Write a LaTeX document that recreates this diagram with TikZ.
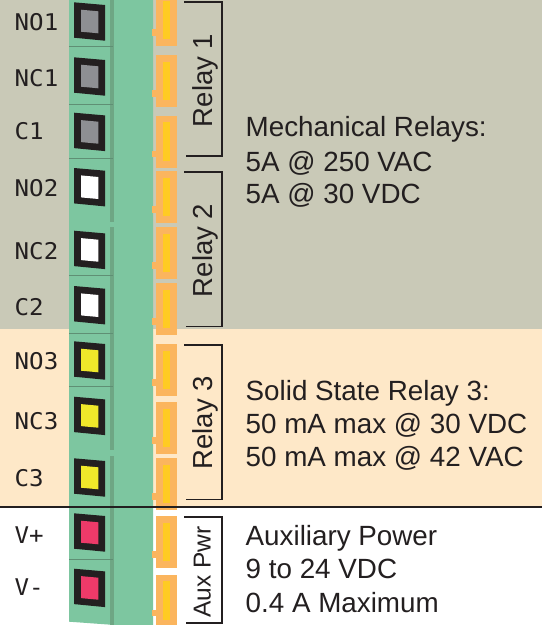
\documentclass[tikz,border=0pt]{standalone}
\usepackage{fontspec}
\setmainfont{Liberation Sans}
\newfontfamily\pinfont[FakeStretch=1.05]{DejaVu Sans Mono}
\definecolor{relaygray}{HTML}{C9C9B7}
\definecolor{peach}{HTML}{FEE8C8}
\definecolor{termgreen}{HTML}{7DC6A0}
\definecolor{stripe}{HTML}{6EA684}
\definecolor{divider}{HTML}{5F8F74}
\definecolor{pinorange}{HTML}{FBB55E}
\definecolor{pinyellow}{HTML}{FFCB23}
\definecolor{housing}{HTML}{231F20}
\definecolor{contactgray}{HTML}{8E8F93}
\definecolor{contactyellow}{HTML}{F0E82A}
\definecolor{contactred}{HTML}{EE3A69}
\tikzset{
  pinlabel/.style={anchor=base west,inner sep=0pt,font=\pinfont\fontsize{23}{23}\selectfont,text=housing},
  infotext/.style={anchor=base west,inner sep=0pt,font=\fontsize{27.8}{27.8}\selectfont,text=housing},
  relaytext/.style={rotate=90,anchor=base,inner sep=0pt,font=\fontsize{27.5}{27.5}\selectfont,text=housing},
  bracketline/.style={draw=housing,line width=1.6pt},
}
\newcommand{\terminal}[2]{%
  \fill[housing] (74,#1) -- (105,#1+2.7) -- (105,#1+38.4) -- (74,#1+35.4) -- cycle;
  \fill[#2] (81,#1+7.4) -- (98.3,#1+9) -- (98.3,#1+31) -- (81,#1+29.4) -- cycle;
}
\newcommand{\orangepin}[1]{%
  \fill[pinorange] (156,#1) rectangle (176.7,#1+52);
  \fill[pinorange] (152,#1+35) rectangle (157,#1+41.7);
  \fill[pinyellow] (163,#1+6.7) rectangle (170,#1+45);
}
\begin{document}
\begin{tikzpicture}[x=1pt,y=-1pt]
\useasboundingbox (0,0) rectangle (542,625);
\fill[relaygray] (0,0) rectangle (542,329);
\fill[peach] (0,329) rectangle (542,507);
\fill[white] (0,507) rectangle (542,625);
% terminal block
\fill[termgreen] (69,0) -- (153,0) -- (153,625) -- (115,625) -- (69,621.7) -- cycle;
\fill[stripe] (110,0) rectangle (114.3,222);
\fill[stripe] (110,227) rectangle (114.3,450);
\fill[stripe] (110,456) rectangle (114.3,625);
\foreach \y in {46.3,104.3,158.3,275.7,333.3,386,559.3}
  \draw[divider,line width=0.6pt] (69,\y) -- (113,\y);
% contacts
\terminal{2.3}{contactgray}
\terminal{57.3}{contactgray}
\terminal{112.7}{contactgray}
\terminal{168}{white}
\terminal{230.7}{white}
\terminal{286}{white}
\terminal{341.3}{contactyellow}
\terminal{396.7}{contactyellow}
\terminal{458.3}{contactyellow}
\terminal{513.3}{contactred}
\terminal{568.7}{contactred}
% pins
\foreach \y in {-6,55,115.7,171.3,227.3,283.3,344,402,458,516,574.7}
  \orangepin{\y}
% separator
\draw[housing,line width=2pt] (0,506.5) -- (542,506.5);
% pin labels
\node[pinlabel] (no1) at (14.5,30.7) {NO1};
\node[pinlabel] (nc1) at (14.5,86) {NC1};
\node[pinlabel] (c1) at (14.5,139.3) {C1};
\node[pinlabel] (no2) at (14.5,196.7) {NO2};
\node[pinlabel] (nc2) at (14.5,259.3) {NC2};
\node[pinlabel] (c2) at (14.5,315.7) {C2};
\node[pinlabel] (no3) at (14.5,369) {NO3};
\node[pinlabel] (nc3) at (14.5,429) {NC3};
\node[pinlabel] (c3) at (14.5,486.7) {C3};
\node[pinlabel] (vp) at (14.5,543.3) {V+};
\node[pinlabel] (vm) at (14.5,595) {V-};
% brackets
\draw[bracketline] (184,2) -- (221.7,2) -- (221.7,156) -- (186,156);
\draw[bracketline] (184,172) -- (221.7,172) -- (221.7,326.5) -- (186,326.5);
\draw[bracketline] (184,345) -- (221.7,345) -- (221.7,499.3) -- (186,499.3);
\draw[bracketline] (184,517) -- (221.7,517) -- (221.7,623) -- (186,623);
\node[relaytext] (r1) at (212,80.5) {Relay 1};
\node[relaytext] (r2) at (212,250.5) {Relay 2};
\node[relaytext] (r3) at (212,422.7) {Relay 3};
\node[relaytext,font=\fontsize{24.5}{24.5}\selectfont] (aux) at (210.7,572) {Aux Pwr};
% info text
\node[infotext] (m1) at (245.5,136.7) {Mechanical Relays:};
\node[infotext] (m2) at (245.5,171) {5A @ 250 VAC};
\node[infotext] (m3) at (245.5,203.7) {5A @ 30 VDC};
\node[infotext] (s1) at (245.5,400) {Solid State Relay 3:};
\node[infotext] (s2) at (245.5,433) {50 mA max @ 30 VDC};
\node[infotext] (s3) at (245.5,466) {50 mA max @ 42 VAC};
\node[infotext] (a1) at (245.5,545) {Auxiliary Power};
\node[infotext] (a2) at (245.5,578) {9 to 24 VDC};
\node[infotext] (a3) at (245.5,612) {0.4 A Maximum};
\end{tikzpicture}
\end{document}
